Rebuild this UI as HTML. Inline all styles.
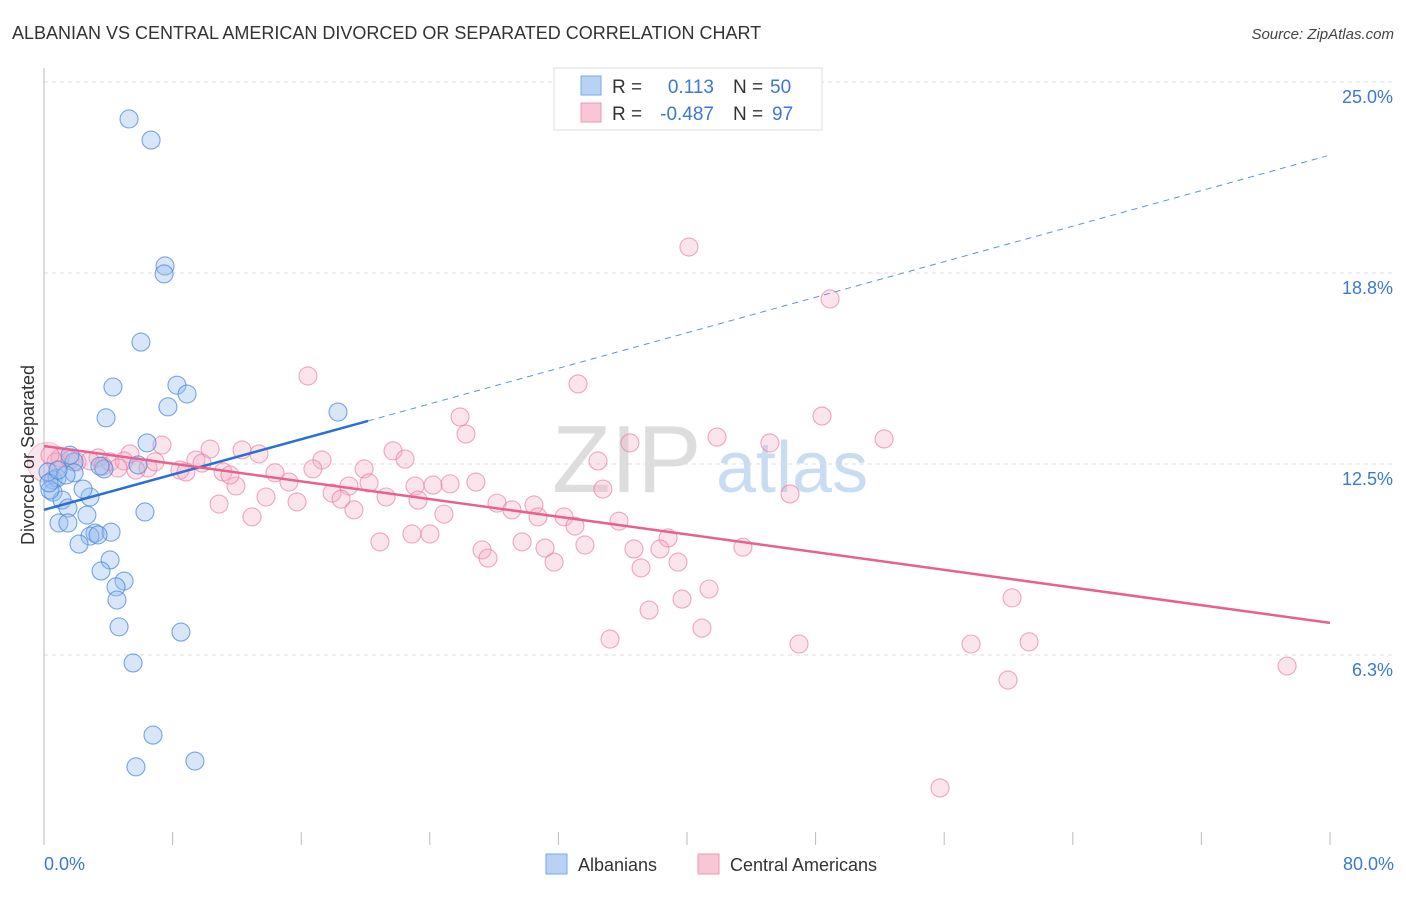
<!DOCTYPE html>
<html><head><meta charset="utf-8"><style>
body{margin:0;background:#fff;font-family:"Liberation Sans",sans-serif;}
svg text{font-family:"Liberation Sans",sans-serif;}
</style></head><body>
<svg id="chart" width="1406" height="892">
<text x="12" y="39" font-size="18" fill="#333">ALBANIAN VS CENTRAL AMERICAN DIVORCED OR SEPARATED CORRELATION CHART</text>
<text x="1394" y="39" font-size="15" fill="#444" text-anchor="end" font-style="italic">Source: ZipAtlas.com</text>
<text x="552" y="492" font-size="96" fill="#ddd" font-family="Liberation Serif">ZIP</text>
<text x="716" y="492" font-size="72" fill="#c8dcf2">atlas</text>
<g id="grid"></g><g id="axes"></g><g id="pink"></g><g id="blue"></g><g id="lines"></g>
<text transform="translate(34,455) rotate(-90)" font-size="18" fill="#333" text-anchor="middle">Divorced or Separated</text>
<text x="44" y="870" font-size="18" fill="#3a78d8">0.0%</text>
<text x="1394" y="870" font-size="18" fill="#3a78d8" text-anchor="end">80.0%</text>
<g>
<rect x="554" y="68" width="268" height="62" fill="#fff" stroke="#ddd"/>
<rect x="581" y="76" width="20" height="19" fill="#b7d2f5" stroke="#7aa8e6"/>
<rect x="581" y="103" width="20" height="19" fill="#f9c6d5" stroke="#eb9ab3"/>
<text x="612" y="93" font-size="19" fill="#333">R =</text><text x="714" y="93" font-size="19" fill="#3a78d8" text-anchor="end">0.113</text>
<text x="733" y="93" font-size="19" fill="#333">N =</text><text x="770" y="93" font-size="19" fill="#3a78d8">50</text>
<text x="612" y="120" font-size="19" fill="#333">R =</text><text x="714" y="120" font-size="19" fill="#3a78d8" text-anchor="end">-0.487</text>
<text x="733" y="120" font-size="19" fill="#333">N =</text><text x="772" y="120" font-size="19" fill="#3a78d8">97</text>
</g>
<g>
<rect x="546" y="854" width="21" height="20" fill="#b7d2f5" stroke="#7aa8e6"/>
<text x="578" y="871" font-size="18" fill="#333">Albanians</text>
<rect x="698" y="854" width="21" height="20" fill="#f9c6d5" stroke="#eb9ab3"/>
<text x="730" y="871" font-size="18" fill="#333">Central Americans</text>
</g>
</svg>
<script>
const yTicks=[25,18.75,12.5,6.25];
const yTickLabels=["25.0%","18.8%","12.5%","6.3%"];
const xTicks=[0,8,16,24,32,40,48,56,64,72,80];
const blueX=[5.29,6.66,7.53,7.47,6.03,4.29,8.27,8.90,7.71,3.86,18.29,6.41,5.85,3.73,1.87,0.56,0.81,0.56,1.12,1.49,2.86,2.43,1.87,0.93,1.49,2.67,3.17,2.86,2.18,4.17,3.36,6.28,4.11,3.55,4.98,4.48,4.54,4.67,8.52,5.54,6.78,5.72,9.39,0.37,0.25,1.37,0.31,0.87,1.62,3.48];
const blueY=[23.79,23.10,18.98,18.72,16.49,15.02,15.08,14.79,14.37,14.01,14.20,13.19,12.47,12.34,12.57,11.98,12.04,11.58,11.32,11.06,11.42,11.68,12.21,10.57,10.57,10.83,10.24,10.14,9.88,10.27,10.18,10.93,9.36,9.00,8.67,8.48,8.05,7.17,7.00,5.99,3.63,2.59,2.78,11.65,12.24,12.14,11.88,12.30,12.79,12.43];
const pinkX=[40.12,48.90,16.42,33.22,25.88,48.40,26.25,41.87,52.26,36.45,45.16,7.34,10.33,12.32,21.71,13.37,34.46,22.46,17.29,9.45,16.73,19.91,4.11,5.35,3.36,1.00,2.05,14.37,11.14,15.24,26.87,24.20,25.26,23.08,18.97,20.22,11.94,34.77,17.92,18.48,21.28,23.27,13.81,15.74,46.41,28.18,30.48,29.11,30.73,32.35,19.28,24.88,33.03,35.77,10.89,12.94,38.82,29.74,20.90,22.89,24.01,31.17,33.65,27.25,27.62,36.70,38.32,43.48,39.44,31.73,37.14,41.37,39.69,60.22,37.64,40.93,35.21,61.28,57.67,46.97,77.33,59.97,55.74,6.47,8.46,8.83,9.83,4.98,2.86,0.75,0.37,1.62,11.57,6.91,5.72,3.67,4.60];
const pinkY=[19.60,17.90,15.38,15.12,14.04,14.07,13.48,13.38,13.32,13.19,13.19,13.12,12.99,12.96,12.93,12.83,12.60,12.66,12.63,12.63,12.34,12.34,12.57,12.83,12.70,12.70,12.57,12.21,12.24,11.91,11.91,11.81,11.85,11.78,11.78,11.88,11.78,11.68,11.55,11.35,11.42,11.32,11.42,11.26,11.52,11.22,11.16,11.00,10.77,10.77,11.00,10.86,10.47,10.63,11.19,10.77,10.08,9.95,9.95,10.21,10.21,9.75,9.85,9.69,9.42,9.72,9.72,9.78,9.29,9.29,9.10,8.41,8.08,8.12,7.72,7.13,6.77,6.68,6.61,6.61,5.89,5.43,1.90,12.37,12.30,12.24,12.53,12.60,12.60,12.57,12.79,12.63,12.14,12.57,12.30,12.43,12.37];
const blueTrendX=[0,20.16,79.8];
const blueTrendY=[11.0,13.91,22.58];
const pinkTrendX=[0,80];
const pinkTrendY=[13.09,7.30];
const NS="http://www.w3.org/2000/svg";
const X=v=>44+v*16.075, Y=v=>82+(25-v)*30.56;
function mk(tag,parent,attrs){const e=document.createElementNS(NS,tag);for(const k in attrs)e.setAttribute(k,attrs[k]);document.getElementById(parent).appendChild(e);return e;}
yTicks.forEach((t,i)=>{
 const l=mk('line','grid',{x1:44,x2:1394,y1:Y(t),y2:Y(t),stroke:'#ddd','stroke-dasharray':'4,4'});
 
 
 const tx=mk('text','grid',{x:1393,y:Y(t)+21,'font-size':18,fill:'#3a78d8','text-anchor':'end'});
 tx.textContent=yTickLabels[i];
 
 
});
const ax=mk('line','axes',{x1:44,x2:44,y1:68,y2:845,stroke:'#bbb'});


xTicks.forEach(t=>{
 const l=mk('line','axes',{x1:X(t),x2:X(t),y1:832,y2:845,stroke:'#bbb'});
 
 
});
const big=mk('circle','pink',{cx:X(0.2),cy:Y(12.55),r:20,fill:'rgba(240,150,180,0.25)',stroke:'rgba(230,120,155,0.45)'});


pinkX.forEach((v,i)=>{
 const c=mk('circle','pink',{cx:X(v),cy:Y(pinkY[i]),r:9,fill:'rgba(246,172,196,0.32)',stroke:'rgba(232,122,158,0.65)','stroke-width':1.1});
 
 
});
blueX.forEach((v,i)=>{
 const c=mk('circle','blue',{cx:X(v),cy:Y(blueY[i]),r:9,fill:'rgba(150,190,240,0.38)',stroke:'rgba(70,130,220,0.7)','stroke-width':1.1});
 
 
});
const b1=mk('line','lines',{x1:X(blueTrendX[0]),y1:Y(blueTrendY[0]),x2:X(blueTrendX[1]),y2:Y(blueTrendY[1]),stroke:'#2a6fd6','stroke-width':2.5});


const b2=mk('line','lines',{x1:X(blueTrendX[1]),y1:Y(blueTrendY[1]),x2:X(blueTrendX[2]),y2:Y(blueTrendY[2]),stroke:'#5b93e0','stroke-width':1,'stroke-dasharray':'6,5'});


const p1=mk('line','lines',{x1:X(pinkTrendX[0]),y1:Y(pinkTrendY[0]),x2:X(pinkTrendX[1]),y2:Y(pinkTrendY[1]),stroke:'#e8608f','stroke-width':2.5});


</script>
</body></html>
